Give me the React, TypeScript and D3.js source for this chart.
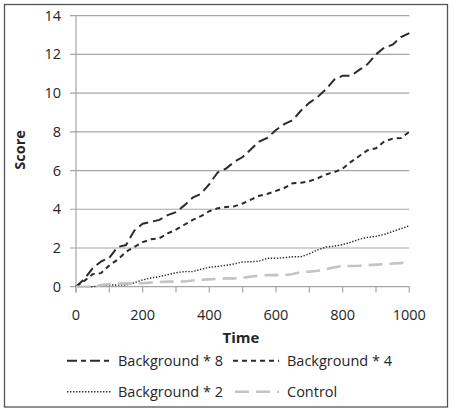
import React from "react";
import * as d3 from "d3";

const times = [0,25,50,75,100,125,150,175,200,225,250,275,300,325,350,375,400,425,450,475,500,525,550,575,600,625,650,675,700,725,750,775,800,825,850,875,900,925,950,975,1000];
const bg8 = [0,0.4,0.95,1.3,1.5,2.05,2.15,2.9,3.25,3.35,3.45,3.7,3.85,4.2,4.6,4.8,5.3,5.9,6.1,6.45,6.7,7.1,7.5,7.7,8.1,8.4,8.6,9.1,9.5,9.8,10.2,10.7,10.9,10.9,11.2,11.5,12.0,12.35,12.5,12.9,13.1];
const bg4 = [0,0.3,0.65,0.7,1.1,1.4,1.8,2.05,2.3,2.45,2.5,2.75,2.95,3.2,3.45,3.65,3.9,4.05,4.12,4.15,4.3,4.5,4.7,4.8,4.95,5.1,5.35,5.37,5.45,5.6,5.8,5.92,6.1,6.45,6.75,7.05,7.15,7.5,7.65,7.68,8.0];
const bg2 = [0,0,0,0.05,0.09,0.09,0.09,0.2,0.35,0.45,0.52,0.62,0.72,0.78,0.78,0.9,1.0,1.05,1.1,1.18,1.28,1.29,1.32,1.47,1.47,1.5,1.55,1.55,1.7,1.9,2.05,2.1,2.17,2.3,2.45,2.55,2.6,2.7,2.85,3.0,3.15];
const control = [0,0,0,0.08,0.14,0.16,0.17,0.17,0.18,0.22,0.24,0.26,0.26,0.27,0.32,0.36,0.38,0.4,0.43,0.43,0.45,0.52,0.57,0.6,0.6,0.6,0.66,0.75,0.78,0.82,0.9,1.0,1.07,1.07,1.08,1.11,1.14,1.17,1.2,1.22,1.3];

const yTicks = [0,2,4,6,8,10,12,14];
const xLabelTicks = [0,200,400,600,800,1000];
const xMinorTicks = [0,100,200,300,400,500,600,700,800,900,1000];
const seriesNames = ["Background * 8","Background * 4","Background * 2","Control"];

const FONT = "'Open Sans', 'Liberation Sans', sans-serif";
const TXT = "#262626";

export default function App() {
  const x = d3.scaleLinear().domain([0, 1000]).range([76, 409.3]);
  const y = d3.scaleLinear().domain([0, 14]).range([286.7, 15.7]);
  const line = d3.line<number>().x((_, i) => x(times[i])).y((d) => y(d));

  const styles = [
    { stroke: "#2b2b2b", width: 2, dash: "10 5" },
    { stroke: "#2b2b2b", width: 2, dash: "5 4" },
    { stroke: "#2b2b2b", width: 1.4, dash: "1.4 1.6" },
    { stroke: "#c4c4c4", width: 2.6, dash: "14 7" },
  ];
  const data = [bg8, bg4, bg2, control];

  const legendPos = [
    { x1: 67, x2: 113, y: 360.7, tx: 118 },
    { x1: 233, x2: 279, y: 360.7, tx: 287 },
    { x1: 67, x2: 111, y: 391.7, tx: 118 },
    { x1: 235, x2: 279, y: 391.7, tx: 287 },
  ];
  const legendDash = ["10 4 5 4", "5 4", "1.4 1.6", "14 7"];

  return (
    <svg width={454} height={410} style={{ position: "absolute", left: 0, top: 0, background: "#fff" }}>
      <rect x={0} y={0} width={454} height={410} fill="#fff" />
      <rect x={4.5} y={4.5} width={443} height={402.5} fill="none" stroke="#555" strokeWidth={1.3} />
      {yTicks.map((t) => (
        <g key={t}>
          <line x1={70} x2={409.3} y1={y(t)} y2={y(t)} stroke="#a6a6a6" strokeWidth={1.2} />
          <text x={61} y={y(t) + 5} textAnchor="end" fontFamily={FONT} fontSize={14.5} fill={TXT}>{t}</text>
        </g>
      ))}
      <line x1={x(0)} x2={x(0)} y1={y(14)} y2={292.5} stroke="#a6a6a6" strokeWidth={1.2} />
      {xMinorTicks.map((t) => (
        <line key={t} x1={x(t)} x2={x(t)} y1={y(0)} y2={292.5} stroke="#a6a6a6" strokeWidth={1.2} />
      ))}
      {xLabelTicks.map((t) => (
        <text key={t} x={x(t)} y={320} textAnchor="middle" fontFamily={FONT} fontSize={14.5} fill={TXT}>{t}</text>
      ))}
      <text x={241} y={343} textAnchor="middle" fontFamily={FONT} fontSize={15} fontWeight="bold" fill={TXT}>Time</text>
      <text transform="translate(25,150) rotate(-90)" textAnchor="middle" fontFamily={FONT} fontSize={14.5} fontWeight="bold" fill={TXT}>Score</text>
      {data.map((d, i) => (
        <path key={i} d={line(d) || ""} fill="none" stroke={styles[i].stroke} strokeWidth={styles[i].width} strokeDasharray={styles[i].dash} />
      ))}
      {legendPos.map((p, i) => (
        <g key={i}>
          <line x1={p.x1} x2={p.x2} y1={p.y} y2={p.y} stroke={styles[i].stroke} strokeWidth={styles[i].width} strokeDasharray={legendDash[i]} />
          <text x={p.tx} y={p.y + 5} fontFamily={FONT} fontSize={14.5} fill={TXT}>{seriesNames[i]}</text>
        </g>
      ))}
    </svg>
  );
}
